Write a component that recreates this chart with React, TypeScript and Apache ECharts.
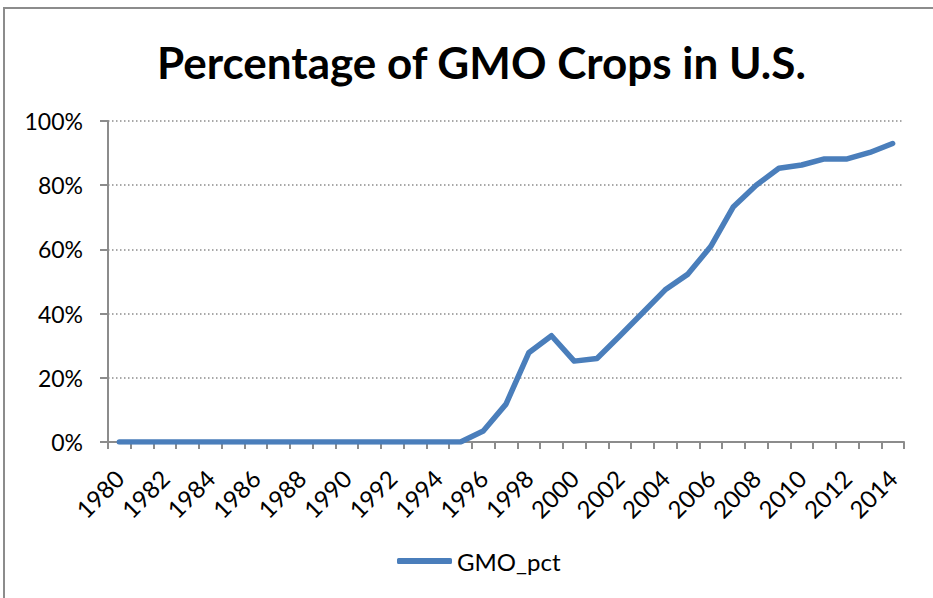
import React, { useEffect, useRef } from "react";
import * as echarts from "echarts";

const years: string[] = [
  "1980","1981","1982","1983","1984","1985","1986","1987","1988","1989",
  "1990","1991","1992","1993","1994","1995","1996","1997","1998","1999",
  "2000","2001","2002","2003","2004","2005","2006","2007","2008","2009",
  "2010","2011","2012","2013","2014",
];

const gmoPct: number[] = [
  0, 0, 0, 0, 0, 0, 0, 0, 0, 0,
  0, 0, 0, 0, 0, 0, 3.4, 11.8, 27.8, 33.1,
  25.2, 26, 33, 40.2, 47.4, 52.3, 60.9, 73.3, 80, 85.3,
  86.3, 88.2, 88.2, 90.2, 93,
];

const yTicks = { min: 0, max: 100, interval: 20 };

export default function App() {
  const ref = useRef<HTMLDivElement>(null);
  useEffect(() => {
    if (!ref.current) return;
    const chart = echarts.init(ref.current, undefined, { renderer: "svg" });
    const font = "Lato, 'Open Sans', sans-serif";
    chart.setOption({
      animation: false,
      backgroundColor: "#ffffff",
      textStyle: { fontFamily: font },
      graphic: [
        {
          type: "rect",
          shape: { x: 4, y: 8, width: 1200, height: 1200 },
          style: { fill: "none", stroke: "#8c8c8c", lineWidth: 2 },
          silent: true,
        },
      ],
      title: {
        text: "Percentage of GMO Crops in U.S.",
        left: 152,
        top: 35,
        textStyle: {
          fontFamily: font,
          fontWeight: "bold",
          fontSize: 44,
          color: "#000000",
        },
      },
      grid: { left: 108, right: 29, top: 121, bottom: 156, containLabel: false },
      legend: {
        data: ["GMO_pct"],
        left: 392,
        top: 544,
        icon: "roundRect",
        itemWidth: 55,
        itemHeight: 6,
        textStyle: { fontFamily: font, fontSize: 24, color: "#000000", padding: [0, 0, 0, 0] },
      },
      xAxis: {
        type: "category",
        data: years,
        boundaryGap: true,
        axisLine: { lineStyle: { color: "#8c8c8c", width: 2 } },
        axisTick: { show: true, interval: 0, length: 7, lineStyle: { color: "#8c8c8c", width: 2 } },
        axisLabel: {
          interval: 1,
          rotate: 45,
          margin: 32,
          fontFamily: font,
          fontSize: 24,
          color: "#000000",
        },
        splitLine: { show: false },
      },
      yAxis: {
        type: "value",
        min: yTicks.min,
        max: yTicks.max,
        interval: yTicks.interval,
        axisLine: { show: true, lineStyle: { color: "#8c8c8c", width: 2 } },
        axisTick: { show: true, length: 8, lineStyle: { color: "#8c8c8c", width: 2 } },
        axisLabel: {
          formatter: "{value}%",
          margin: 25,
          fontFamily: font,
          fontSize: 23,
          color: "#000000",
        },
        splitLine: {
          show: true,
          lineStyle: { color: "#8c8c8c", width: 1.5, type: [1.5, 2.5] },
        },
      },
      series: [
        {
          name: "GMO_pct",
          type: "line",
          data: gmoPct,
          symbol: "none",
          showSymbol: false,
          lineStyle: { color: "#4a7ebb", width: 5.5, cap: "round", join: "round" },
          itemStyle: { color: "#4a7ebb" },
        },
      ],
    });
    return () => chart.dispose();
  }, []);
  return (
    <div
      ref={ref}
      style={{ position: "fixed", left: 0, top: 0, width: 933, height: 598 }}
    />
  );
}
